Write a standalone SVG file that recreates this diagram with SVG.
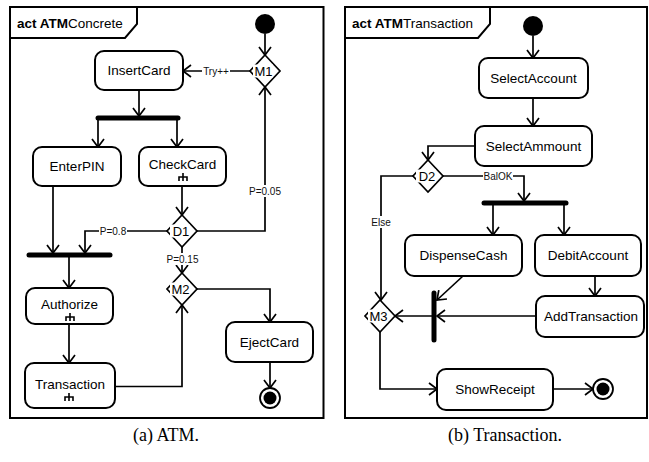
<svg xmlns="http://www.w3.org/2000/svg" width="649" height="462" viewBox="0 0 649 462">
<style>
.frame{fill:none;stroke:#000;stroke-width:2}
.box{fill:#fff;stroke:#000;stroke-width:2}
.e{fill:none;stroke:#000;stroke-width:1.7}
.bar{stroke:#000;stroke-width:5;stroke-linecap:round}
.dia{fill:#fff;stroke:#000;stroke-width:1.7}
.t{font-family:"Liberation Sans",Arial,sans-serif;font-size:13.5px;text-anchor:middle;fill:#000}
.dl{font-family:"Liberation Sans",Arial,sans-serif;font-size:13px;text-anchor:middle;fill:#000}
.el{font-family:"Liberation Sans",Arial,sans-serif;font-size:10px;text-anchor:middle;fill:#111}
.bg{fill:#fff;stroke:none}
.title{font-family:"Liberation Sans",Arial,sans-serif;font-size:13.5px;fill:#000}
.cap{font-family:"Liberation Serif","Times New Roman",serif;font-size:18px;text-anchor:middle;fill:#000}
.rake{fill:none;stroke:#000;stroke-width:1.6}
</style>
<defs>
<marker id="a" markerWidth="20" markerHeight="20" viewBox="-10 -10 20 20" refX="0" refY="0" orient="auto" markerUnits="userSpaceOnUse">
<path d="M-8,-6 L0,0 L-8,6" fill="none" stroke="#000" stroke-width="1.7"/>
</marker>
</defs>

<!-- ===== Left frame: ATMConcrete ===== -->
<g id="frameA">
<rect class="frame" x="10" y="7" width="313.5" height="411"/>
<path class="frame" d="M10,38 H125 L137,24 V7"/>
<text class="title" x="17" y="27.5"><tspan font-weight="bold">act ATM</tspan>Concrete</text>
</g>

<g id="connectorsA">
<path class="e" d="M265,34 V55" marker-end="url(#a)"/>
<path class="e" d="M250,71 H183" marker-end="url(#a)"/>
<path class="e" d="M139,90 V116" marker-end="url(#a)"/>
<path class="e" d="M98,118 V147" marker-end="url(#a)"/>
<path class="e" d="M177,118 V147" marker-end="url(#a)"/>
<path class="e" d="M182,186 V215" marker-end="url(#a)"/>
<path class="e" d="M167,231 H85 V253" marker-end="url(#a)"/>
<path class="e" d="M53,186 V253" marker-end="url(#a)"/>
<path class="e" d="M69,257 V288" marker-end="url(#a)"/>
<path class="e" d="M69,324 V363" marker-end="url(#a)"/>
<path class="e" d="M115,386.5 H182 V305" marker-end="url(#a)"/>
<path class="e" d="M182,247 V273" marker-end="url(#a)"/>
<path class="e" d="M197,289 H270 V322" marker-end="url(#a)"/>
<path class="e" d="M270,362 V388" marker-end="url(#a)"/>
<path class="e" d="M197,231 H265 V87" marker-end="url(#a)"/>
<rect class="bg" x="202" y="65" width="28" height="12"/>
<text class="el" x="216" y="74.5">Try++</text>
<rect class="bg" x="99" y="225" width="28" height="12"/>
<text class="el" x="113" y="234.5">P=0.8</text>
<rect class="bg" x="249" y="185" width="32" height="12"/>
<text class="el" x="265" y="194.5">P=0.05</text>
<rect class="bg" x="166" y="253" width="33" height="12"/>
<text class="el" x="182.5" y="262.5">P=0.15</text>
</g>

<g id="initA"><circle cx="265" cy="24" r="10" fill="#000"/></g>
<g id="M1">
<path class="dia" d="M265,55 L280,71 L265,87 L250,71 Z"/>
<rect class="bg" x="253" y="64.5" width="20" height="13"/>
<text class="dl" x="263.5" y="75.5">M1</text>
</g>
<g id="InsertCard"><rect class="box" x="95" y="51" width="88" height="39" rx="9"/><text class="t" x="139" y="75.2">InsertCard</text></g>
<g id="forkA"><line class="bar" x1="98" y1="118" x2="178" y2="118"/></g>
<g id="EnterPIN"><rect class="box" x="33" y="147" width="88" height="39" rx="9"/><text class="t" x="77" y="171.2">EnterPIN</text></g>
<g id="CheckCard"><rect class="box" x="139" y="147" width="87" height="39" rx="9"/><text class="t" x="182.5" y="169">CheckCard</text>
<path class="rake" d="M183,173 V181 M179,181 V177 H187 V181"/></g>
<g id="D1">
<path class="dia" d="M182,215 L197,231 L182,247 L167,231 Z"/>
<rect class="bg" x="170" y="224.5" width="20" height="13"/>
<text class="dl" x="181" y="235.5">D1</text>
</g>
<g id="joinA"><line class="bar" x1="29" y1="255" x2="110" y2="255"/></g>
<g id="Authorize"><rect class="box" x="26" y="288" width="87" height="36" rx="9"/><text class="t" x="69.5" y="308.5">Authorize</text>
<path class="rake" d="M70,313 V321 M66,321 V317 H74 V321"/></g>
<g id="Transaction"><rect class="box" x="25" y="363" width="90" height="45" rx="9"/><text class="t" x="70" y="389">Transaction</text>
<path class="rake" d="M69,393 V401 M65,401 V397 H73 V401"/></g>
<g id="M2">
<path class="dia" d="M182,273 L197,289 L182,305 L167,289 Z"/>
<rect class="bg" x="170" y="282.5" width="20" height="13"/>
<text class="dl" x="180.5" y="293.5">M2</text>
</g>
<g id="EjectCard"><rect class="box" x="226" y="322" width="87" height="40" rx="9"/><text class="t" x="269.5" y="346.7">EjectCard</text></g>
<g id="finalA"><circle cx="270" cy="398" r="10" fill="#fff" stroke="#000" stroke-width="1.8"/><circle cx="270" cy="398" r="6.5" fill="#000"/></g>

<!-- ===== Right frame: ATMTransaction ===== -->
<g id="frameB">
<rect class="frame" x="345" y="7" width="302" height="411"/>
<path class="frame" d="M345,38 H478 L490,24 V7"/>
<text class="title" x="352" y="27.5"><tspan font-weight="bold">act ATM</tspan>Transaction</text>
</g>

<g id="connectorsB">
<path class="e" d="M533,36 V58" marker-end="url(#a)"/>
<path class="e" d="M533,98 V126" marker-end="url(#a)"/>
<path class="e" d="M475,146 H428 V160" marker-end="url(#a)"/>
<path class="e" d="M413,176 H381 V300" marker-end="url(#a)"/>
<path class="e" d="M443,176 H524 V201" marker-end="url(#a)"/>
<path class="e" d="M493,203 V235" marker-end="url(#a)"/>
<path class="e" d="M564,203 V235" marker-end="url(#a)"/>
<path class="e" d="M595,276 V296" marker-end="url(#a)"/>
<path class="e" d="M463,276 L437,300" marker-end="url(#a)"/>
<path class="e" d="M536,316 H437" marker-end="url(#a)"/>
<path class="e" d="M432,316 H395" marker-end="url(#a)"/>
<path class="e" d="M380,332 V389 H437" marker-end="url(#a)"/>
<path class="e" d="M553,389 H593" marker-end="url(#a)"/>
<rect class="bg" x="483" y="170" width="30" height="12"/>
<text class="el" x="498" y="179.5">BalOK</text>
<rect class="bg" x="370" y="216" width="22" height="12"/>
<text class="el" x="381" y="225.5">Else</text>
</g>

<g id="initB"><circle cx="533" cy="26" r="10" fill="#000"/></g>
<g id="SelectAccount"><rect class="box" x="479" y="58" width="109" height="40" rx="9"/><text class="t" x="533.5" y="82.7">SelectAccount</text></g>
<g id="SelectAmmount"><rect class="box" x="475" y="126" width="117" height="40" rx="9"/><text class="t" x="533.5" y="150.7">SelectAmmount</text></g>
<g id="D2">
<path class="dia" d="M428,160 L443,176 L428,192 L413,176 Z"/>
<rect class="bg" x="416" y="169.5" width="20" height="13"/>
<text class="dl" x="427" y="180.5">D2</text>
</g>
<g id="forkB"><line class="bar" x1="484" y1="203" x2="566" y2="203"/></g>
<g id="DispenseCash"><rect class="box" x="405" y="235" width="117" height="41" rx="9"/><text class="t" x="463.5" y="260.2">DispenseCash</text></g>
<g id="DebitAccount"><rect class="box" x="535" y="235" width="106" height="41" rx="9"/><text class="t" x="588" y="260.2">DebitAccount</text></g>
<g id="AddTransaction"><rect class="box" x="536" y="296" width="108" height="41" rx="9"/><text class="t" x="591" y="321.2">AddTransaction</text></g>
<g id="joinB"><line class="bar" x1="434" y1="293" x2="434" y2="340"/></g>
<g id="M3">
<path class="dia" d="M380,300 L395,316 L380,332 L365,316 Z"/>
<rect class="bg" x="368" y="309.5" width="20" height="13"/>
<text class="dl" x="378.5" y="320.5">M3</text>
</g>
<g id="ShowReceipt"><rect class="box" x="437" y="369" width="116" height="41" rx="9"/><text class="t" x="495" y="394.2">ShowReceipt</text></g>
<g id="finalB"><circle cx="603" cy="389" r="10" fill="#fff" stroke="#000" stroke-width="1.8"/><circle cx="603" cy="389" r="6.5" fill="#000"/></g>

<text class="cap" x="166" y="441">(a) ATM.</text>
<text class="cap" x="505" y="441">(b) Transaction.</text>
</svg>
